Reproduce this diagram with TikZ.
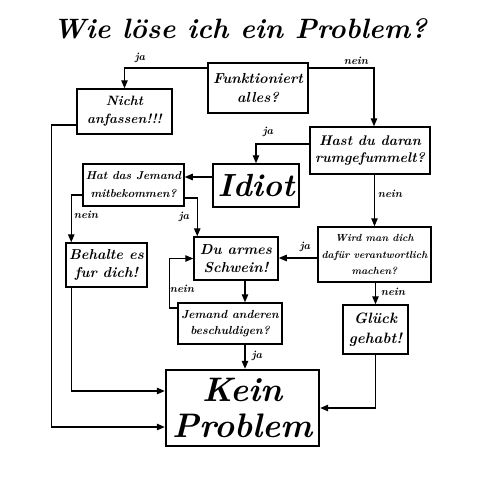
\documentclass[tikz,border=0pt]{standalone}
\usepackage{fontspec}
\usetikzlibrary{arrows.meta}
\newcommand{\fsz}[2]{\fontsize{#1}{#2}\selectfont}
\begin{document}
\begin{tikzpicture}[x=1pt,y=-1pt,
  box/.style={draw,line width=1.5pt,inner sep=0pt,align=center},
  tx/.style 2 args={font=\bfseries\itshape\fsz{#1}{#2}},
  arr/.style={line width=1.2pt,-{Triangle[length=8pt,width=6.5pt]}},
  lbl/.style={tx={11}{13},inner sep=0pt}]
\useasboundingbox (0,0) rectangle (480,480);
\node[tx={28}{32}] (title) at (240,29) {Wie löse ich ein Problem?};
\node[box,tx={14.5}{19},minimum width=100pt,minimum height=50pt] (fa) at (258,88) {Funktioniert\\alles?};
\node[box,tx={13.5}{18},minimum width=95pt,minimum height=45pt] (na) at (124.5,111.5) {Nicht\\anfassen!!!};
\node[box,tx={14}{17},minimum width=120pt,minimum height=47pt] (hd) at (370,150.5) {Hast du daran\\rumgefummelt?};
\node[box,tx={32}{36},minimum width=86pt,minimum height=43pt] (id) at (256,185.5) {Idiot};
\node[box,tx={11.5}{18},minimum width=101pt,minimum height=42pt] (hj) at (133.5,185) {Hat das Jemand\\mitbekommen?};
\node[box,tx={14.4}{17.5},minimum width=81pt,minimum height=44pt] (be) at (106.5,265) {Behalte es\\fur dich!};
\node[box,tx={14.5}{18},minimum width=84pt,minimum height=43pt] (da) at (236,258.5) {Du armes\\Schwein!};
\node[box,tx={10.3}{16.5},minimum width=113pt,minimum height=55pt] (wi) at (374.5,254.5) {Wird man dich\\dafür verantwortlich\\machen?};
\node[box,tx={15}{19.5},minimum width=65pt,minimum height=49pt] (gl) at (375.5,329.5) {Glück\\gehabt!};
\node[box,tx={11.7}{16.5},minimum width=104pt,minimum height=41pt] (je) at (230,323.5) {Jemand anderen\\beschuldigen?};
\node[box,tx={34}{36},line width=2.4pt,minimum width=153pt,minimum height=76pt] (kp) at (242.5,408) {Kein\\Problem};
\coordinate (xm) at (245,0);
% connectors
\draw[arr] ([yshift=20pt]fa.west) -| (na.north);
\node[lbl] (l1) at (140,58) {ja};
\draw[arr] ([yshift=20pt]fa.east) -| ([xshift=4pt]hd.north);
\node[lbl] (l2) at (356,61) {nein};
\draw[arr] ([yshift=6.5pt]hd.west) -| (id.north);
\node[lbl] (l3) at (268,132) {ja};
\coordinate (c4) at ([yshift=8.5pt]id.west);
\draw[arr] (c4) -- (hj.east |- c4);
\draw[arr] ([yshift=-10pt]hj.west) -| ([xshift=6pt]be.north west);
\node[lbl] (l5) at (86,215) {nein};
\draw[arr] ([yshift=-13pt]hj.east) -| ([xshift=4pt]da.north west);
\node[lbl] (l6) at (184,217) {ja};
\draw[arr] (wi.north |- hd.south) -- (wi.north);
\node[lbl] (l7) at (390,194) {nein};
\coordinate (c8) at ([yshift=-3.5pt]wi.west);
\draw[arr] (c8) -- (da.east |- c8);
\node[lbl] (l8) at (305,247) {ja};
\draw[arr] (gl.north |- wi.south) -- (gl.north);
\node[lbl] (l9) at (393,292) {nein};
\draw[arr] (da.south -| xm) -- (je.north -| xm);
\draw[arr] ([yshift=15.5pt]je.west) -- ++(-8,0) |- (da.west);
\node[lbl] (l11) at (182,289) {nein};
\draw[arr] (je.south -| xm) -- (kp.north -| xm);
\node[lbl] (l12) at (257,356) {ja};
\draw[arr] ([xshift=6pt]be.south west) |- ([yshift=17pt]kp.west);
\draw[arr] ([yshift=-13.5pt]na.west) -- ++(-25,0) |- ([yshift=-19pt]kp.west);
\draw[arr] (gl.south) |- (kp.east);
\end{tikzpicture}
\end{document}
